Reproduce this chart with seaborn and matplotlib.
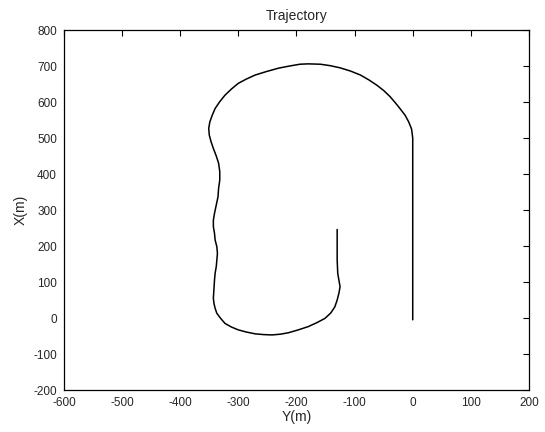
import matplotlib
matplotlib.use("Agg")
import matplotlib.pyplot as plt
import pandas as pd
import seaborn as sns

# Trajectory points (Y along horizontal, X vertical)
y_pos = [0, 0, 0, 0, 0, 0, -2, -7, -13, -22, -30, -39, -50, -62, -75, -90,
         -107, -125, -142, -159, -180, -194, -212, -231, -251, -271, -286,
         -300, -312, -323, -332, -340, -345, -349, -351, -350, -347, -343,
         -338, -334, -332, -332, -334, -335, -338, -341, -343, -343, -341,
         -340, -337, -336, -337, -338, -340, -341, -342, -343, -342, -340,
         -337, -331, -323, -312, -300, -286, -271, -257, -242, -228, -214,
         -197, -180, -165, -151, -141, -134, -130, -127, -125, -127, -129,
         -130, -130, -130]
x_pos = [-5, 100, 200, 300, 400, 500, 525, 545, 563, 582, 598, 615, 632, 647,
         661, 675, 686, 695, 701, 705, 706, 705, 700, 694, 685, 675, 664, 652,
         636, 619, 601, 582, 563, 545, 527, 508, 490, 471, 450, 430, 407, 383,
         360, 337, 314, 291, 272, 254, 235, 217, 198, 180, 161, 143, 124, 106,
         80, 55, 41, 27, 13, 0, -15, -25, -33, -39, -44, -46, -47, -45, -41,
         -33, -24, -13, -1, 14, 31, 50, 69, 87, 105, 124, 161, 200, 246]

x_ticks = list(range(-600, 201, 100))
y_ticks = list(range(-200, 801, 100))

df = pd.DataFrame({"Y": y_pos, "X": x_pos})

sns.set_style("white")
plt.rcParams["font.family"] = ["Liberation Sans", "DejaVu Sans"]
plt.rcParams["axes.unicode_minus"] = False  # plain hyphen like MATLAB

fig = plt.figure(figsize=(5.45, 4.32), dpi=100)
ax = fig.add_axes([0.1174, 0.0972, 0.8532, 0.8333])

sns.lineplot(data=df, x="Y", y="X", sort=False, estimator=None,
             color="black", linewidth=1.1, ax=ax)

ax.set_xlim(-600, 200)
ax.set_ylim(-200, 800)
ax.set_xticks(x_ticks)
ax.set_yticks(y_ticks)
ax.tick_params(direction="in", top=True, right=True, length=4,
               labelsize=8.5, color="black", pad=5)
for s in ax.spines.values():
    s.set_color("black")
    s.set_linewidth(0.9)

ax.set_title("Trajectory", fontsize=10, pad=7)
ax.set_xlabel("Y(m)", fontsize=10, labelpad=1)
ax.set_ylabel("X(m)", fontsize=10, labelpad=4)

fig.savefig("out.png", dpi=100)
